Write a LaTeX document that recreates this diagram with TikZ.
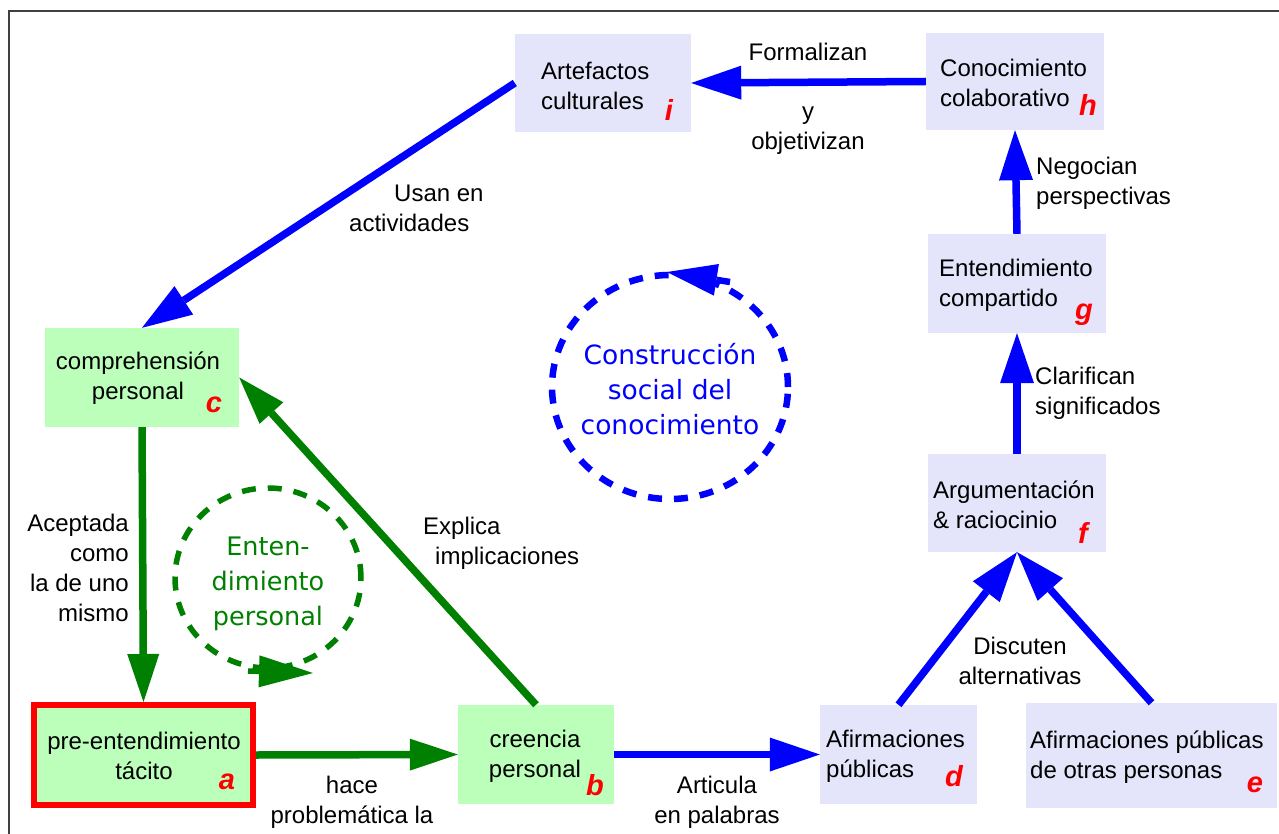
\documentclass[tikz,border=0pt]{standalone}
\usepackage{fontspec}
\setmainfont{Liberation Sans}
\newfontfamily\dvs{DejaVu Sans}
\usetikzlibrary{arrows.meta}
\definecolor{gfill}{RGB}{187,255,187}
\definecolor{bfill}{RGB}{228,228,250}
\definecolor{dgreen}{RGB}{0,128,0}
\definecolor{framegray}{RGB}{64,64,64}
\begin{document}
\begin{tikzpicture}[x=1pt,y=-1pt,
  gbox/.style={rectangle, fill=gfill, inner sep=0pt},
  bbox/.style={rectangle, fill=bfill, inner sep=0pt},
  txt/.style={inner sep=0pt, font=\fontsize{24}{30}\selectfont},
  lbl/.style={inner sep=0pt, font=\fontsize{29}{29}\selectfont\bfseries\itshape, text=red},
  ctxt/.style={inner sep=0pt, align=center},
  barrow/.style={draw=blue, line width=7.5pt, -{Triangle[length=50pt,width=34pt,line width=0pt]}},
  garrow/.style={draw=dgreen, line width=7.5pt, -{Triangle[length=48pt,width=32pt,line width=0pt]}},
  dashcircle/.style={line width=#1, dash pattern=on 14pt off 12pt}
]
\fill[white] (0,0) rectangle (1279,834);
\useasboundingbox (0,0) rectangle (1279,834);
\draw[framegray, line width=2pt] (9,834) -- (9,11) -- (1279,11);

% boxes
\node[bbox, minimum width=176pt, minimum height=98pt] (i) at (603,83) {};
\node[bbox, minimum width=178pt, minimum height=97pt] (h) at (1015,81.5) {};
\node[bbox, minimum width=178pt, minimum height=99pt] (g) at (1017,283.5) {};
\node[bbox, minimum width=178pt, minimum height=98pt] (f) at (1017,503) {};
\node[bbox, minimum width=157pt, minimum height=99pt] (d) at (898.5,754.5) {};
\node[bbox, minimum width=251pt, minimum height=105pt] (e) at (1151.5,755.5) {};
\node[gbox, minimum width=156pt, minimum height=99pt] (b) at (536,754.5) {};
\node[gbox, draw=red, line width=6pt, minimum width=219pt, minimum height=100pt] (a) at (143.5,755) {};
\node[gbox, minimum width=194pt, minimum height=99pt] (c) at (142,377.5) {};

% box texts
\node[txt, align=left, anchor=west] (iT) at (541,86) {Artefactos\\culturales};
\node[txt, align=left, anchor=west] (hT) at (940,83) {Conocimiento\\colaborativo};
\node[txt, align=left, anchor=west] (gT) at (939,285) {Entendimiento\\compartido};
\node[txt, align=left, anchor=west] (fT) at (933,505) {Argumentación\\\& raciocinio};
\node[txt, align=left, anchor=west] (dT) at (826,756) {Afirmaciones\\públicas};
\node[txt, align=left, anchor=west] (eT) at (1030,757) {Afirmaciones públicas\\de otras personas};
\node[txt, align=center] (bT) at (535,756) {creencia\\personal};
\node[txt, align=center] (aT) at (144,756) {pre-entendimiento\\tácito};
\node[txt, align=center] (cT) at (138,378) {comprehensión\\personal};

% red letters
\node[lbl] (iL) at (669,110) {i};
\node[lbl] (hL) at (1088,105) {h};
\node[lbl] (gL) at (1084,315) {g};
\node[lbl] (fL) at (1083,533) {f};
\node[lbl] (dL) at (954,776) {d};
\node[lbl] (eL) at (1255,785) {e};
\node[lbl] (bL) at (595,785) {b};
\node[lbl] (aL) at (227,782) {a};
\node[lbl] (cL) at (214,405) {c};

% connectors
\draw[barrow] (i.west) -- (c.north);
\draw[barrow] (h.west) -- (i.east);
\draw[barrow] (g.north) -- (h.south);
\draw[barrow] (f.north) -- (g.south);
\draw[barrow] (d.north) -- (f.south);
\draw[barrow] (e.north) -- (f.south);
\draw[barrow] (b.east) -- (d.west);
\draw[garrow] (a.east) -- (b.west);
\draw[garrow] (c.south) -- (a.north);
\draw[garrow] (b.north) -- (c.east);

% connector labels
\node[txt, align=left, anchor=west] (usan) at (349,208) {\hspace*{45pt}Usan en\\actividades};
\node[txt] (form) at (808,52) {Formalizan};
\node[txt, align=center] (obj) at (808,131) {y\\objetivizan};
\node[txt, align=left, anchor=west] (neg) at (1036,183) {Negocian\\perspectivas};
\node[txt, align=left, anchor=west] (clar) at (1035,393) {Clarifican\\significados};
\node[txt, align=center] (disc) at (1020,661) {Discuten\\alternativas};
\node[txt, align=center] (art) at (717,802) {Articula\\en palabras};
\node[txt, align=center] (hace) at (352,802) {hace\\problemática la};
\node[txt, align=left, anchor=west] (expl) at (423,543) {Explica\\\hspace*{12pt}implicaciones};
\node[txt, align=right, anchor=east] (acep) at (129,568) {Aceptada\\como\\la de uno\\mismo};

% cycles
\draw[blue, dashcircle=6.5pt] (670,387) ellipse [x radius=118pt, y radius=112pt];
\draw[blue, line width=6.5pt, -{Triangle[length=50pt,width=32pt,line width=0pt]}] (730,282) -- (667,272);
\node[ctxt, text=blue, font=\dvs\fontsize{26.5}{35}\selectfont] (soc) at (670,389) {Construcción\\social del\\conocimiento};

\draw[dgreen, dashcircle=5.5pt] (268,578) ellipse [x radius=93pt, y radius=90pt];
\draw[dgreen, line width=5.5pt, -{Triangle[length=54pt,width=32pt,line width=0pt]}] (248,671) -- (313,673);
\node[ctxt, text=dgreen, font=\dvs\fontsize{25.5}{35}\selectfont] (pers) at (268,584) {Enten-\\dimiento\\personal};
\end{tikzpicture}
\end{document}
